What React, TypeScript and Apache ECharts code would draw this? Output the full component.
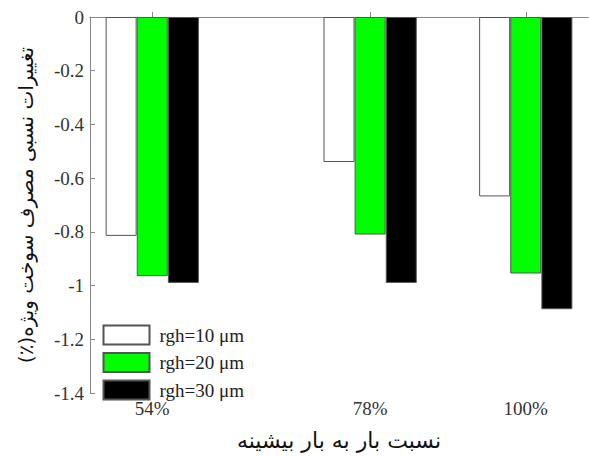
import React, { useEffect, useRef } from "react";
import * as echarts from "echarts";

const categories = ["54%", "78%", "100%"];
const groupPositions = [1, 4.5, 7];
const seriesNames = ["rgh=10 μm", "rgh=20 μm", "rgh=30 μm"];
const seriesColors = ["#ffffff", "#00ff00", "#000000"];
const seriesOffsets = [-0.5, 0, 0.5];
const rgh10 = [-0.815, -0.54, -0.668];
const rgh20 = [-0.965, -0.81, -0.955];
const rgh30 = [-0.99, -0.99, -1.088];
const seriesValues = [rgh10, rgh20, rgh30];
const yTicks = [0, -0.2, -0.4, -0.6, -0.8, -1, -1.2, -1.4];

const xTitle = "نسبت بار به بار بیشینه";
const yTitle = "\u200Fتغییرات نسبی مصرف سوخت ویژه(٪)\u200F";

const serif = "'Liberation Serif', 'Times New Roman', serif";
const persian = "'DejaVu Sans', 'Liberation Serif', serif";

export default function App() {
  const ref = useRef<HTMLDivElement>(null);
  useEffect(() => {
    if (!ref.current) return;
    const chart = echarts.init(ref.current, undefined, { renderer: "svg" });
    const option: any = {
      animation: false,
      backgroundColor: "#ffffff",
      grid: { left: 90, top: 17, right: 1, bottom: 53, containLabel: false },
      legend: {
        orient: "vertical",
        left: 102.5,
        top: 324.5,
        padding: 0,
        itemWidth: 46,
        itemHeight: 19,
        itemGap: 6.5,
        icon: "rect",
        data: seriesNames,
        textStyle: {
          fontFamily: serif,
          fontSize: 19,
          color: "#222",
          padding: [0, 0, 0, 5],
        },
      },
      xAxis: [
        {
          type: "value",
          min: 0,
          max: 8,
          position: "bottom",
          axisLine: { show: true, lineStyle: { color: "#888", width: 1 } },
          axisTick: {
            show: true,
            inside: true,
            length: 5,
            customValues: groupPositions,
            lineStyle: { color: "#888" },
          },
          axisLabel: {
            customValues: groupPositions,
            formatter: (v: number) => {
              const i = groupPositions.indexOf(v);
              return i >= 0 ? categories[i] : "";
            },
            fontFamily: serif,
            fontSize: 19,
            color: "#333",
            margin: 6,
          },
          splitLine: { show: false },
          name: xTitle,
          nameLocation: "middle",
          nameGap: 36,
          nameTextStyle: { fontFamily: persian, fontSize: 22, color: "#111" },
        },
        {
          type: "value",
          min: 0,
          max: 8,
          position: "top",
          axisLine: { show: true, onZero: false, lineStyle: { color: "#888", width: 1 } },
          axisTick: { show: false },
          axisLabel: { show: false },
          splitLine: { show: false },
        },
      ],
      yAxis: {
        type: "value",
        min: -1.4,
        max: 0,
        interval: 0.2,
        axisLine: { show: true, lineStyle: { color: "#888", width: 1 } },
        axisTick: { show: true, inside: true, length: 5, lineStyle: { color: "#888" } },
        axisLabel: {
          formatter: (v: number) => {
            const r = Math.round(v * 10) / 10;
            const t = yTicks.find((y) => Math.abs(y - r) < 1e-6);
            return String(t === undefined ? r : t);
          },
          fontFamily: serif,
          fontSize: 19,
          color: "#333",
          margin: 6,
        },
        splitLine: { show: false },
        name: yTitle,
        nameLocation: "middle",
        nameGap: 54,
        nameTextStyle: { fontFamily: persian, fontSize: 20, color: "#111" },
      },
      series: seriesNames.map((name, s) => ({
        type: "bar",
        name,
        xAxisIndex: 0,
        barWidth: 31,
        barGap: "-100%",
        itemStyle: { color: seriesColors[s], borderColor: "#555", borderWidth: 1 },
        data: seriesValues[s].map((v, i) => [groupPositions[i] + seriesOffsets[s], v]),
      })),
    };
    chart.setOption(option);
    return () => chart.dispose();
  }, []);
  return (
    <div
      ref={ref}
      style={{ position: "fixed", left: 0, top: 0, width: 589, height: 456 }}
    />
  );
}
